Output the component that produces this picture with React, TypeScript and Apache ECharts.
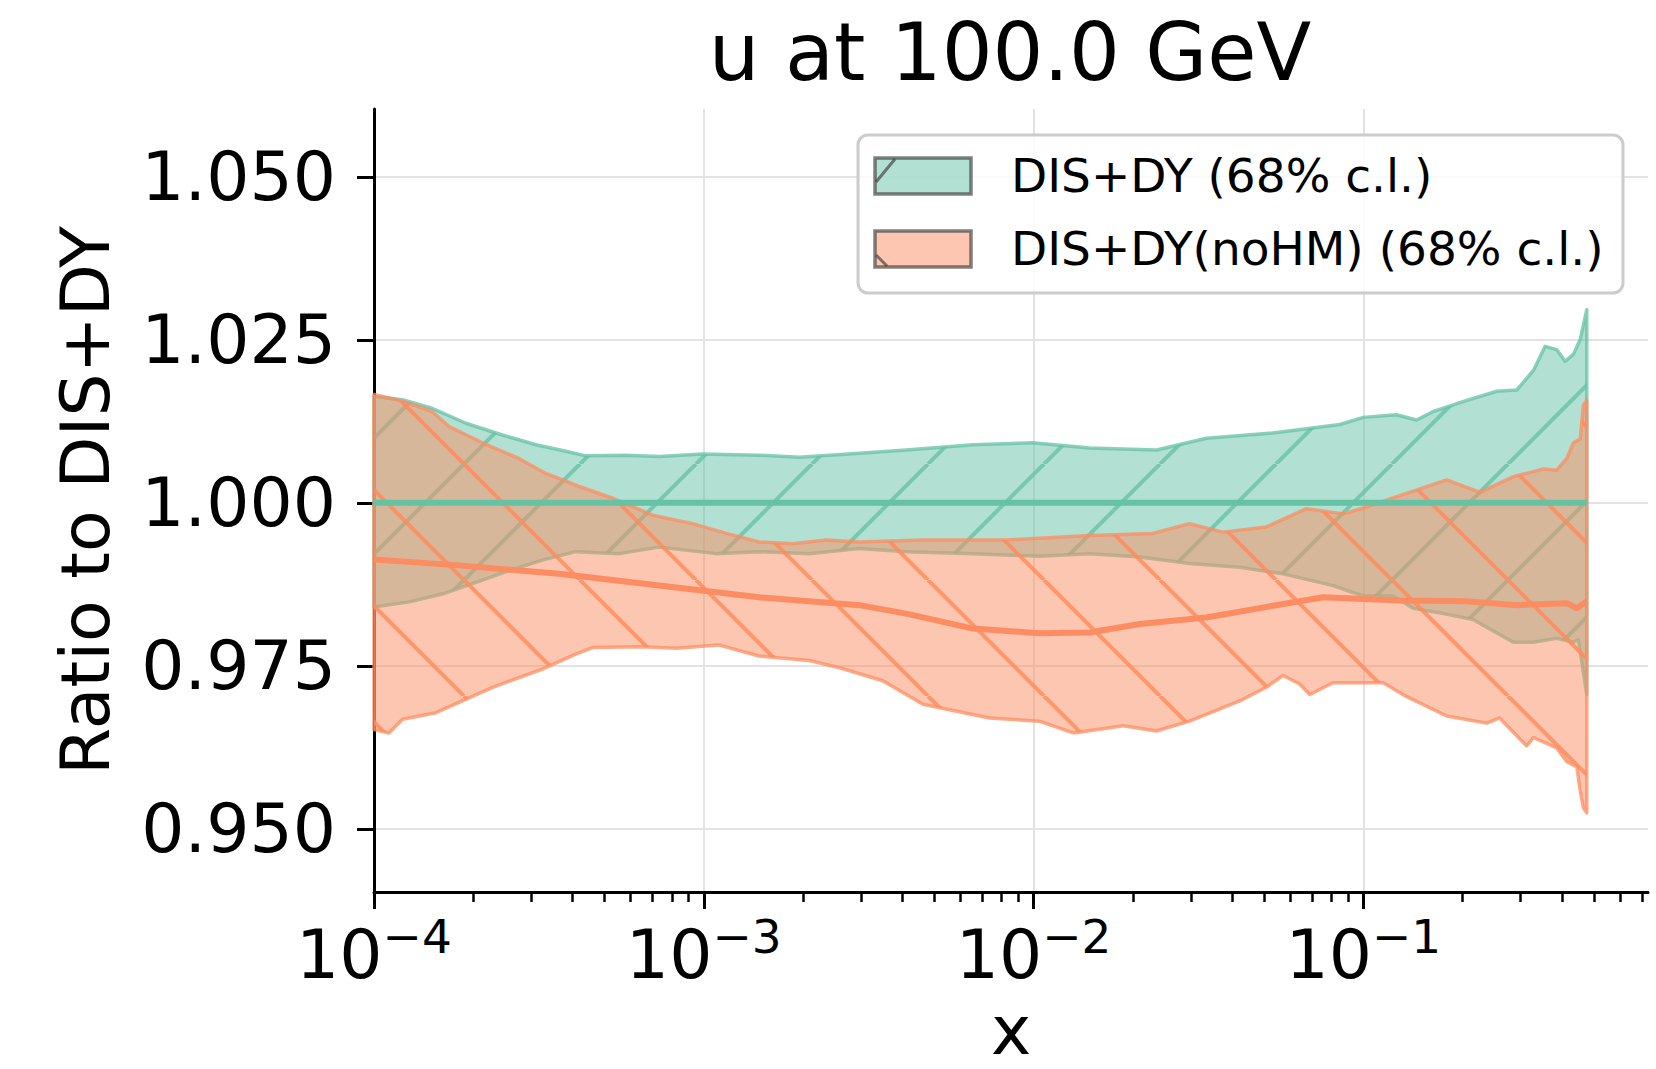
import React, { useEffect, useRef } from "react";
import * as echarts from "echarts";

const TITLE = "u at 100.0 GeV";
const X_NAME = "x";
const Y_NAME = "Ratio to DIS+DY";
const LEGEND_LABELS = ["DIS+DY (68% c.l.)", "DIS+DY(noHM) (68% c.l.)"];

const X_MIN = 1e-4;
const X_MAX = 0.73;
const Y_MIN = 0.9403;
const Y_MAX = 1.0604;
const Y_TICKS = [0.95, 0.975, 1.0, 1.025, 1.05];
const X_MAJOR_TICKS = [1e-4, 1e-3, 1e-2, 1e-1];

// DIS+DY band (68% c.l.), ratio to DIS+DY central
const GREEN_UPPER: number[][] = [
  [1.0e-4, 1.0163], [1.22e-4, 1.0158], [1.5e-4, 1.0145], [1.9e-4, 1.0122], [2.45e-4, 1.0104],
  [3.1e-4, 1.0089], [3.82e-4, 1.0079], [4.39e-4, 1.0072], [5.81e-4, 1.0073], [7.33e-4, 1.0071],
  [9.91e-4, 1.0075], [1.47e-3, 1.0073], [1.95e-3, 1.007], [2.96e-3, 1.0076], [4.11e-3, 1.0081],
  [6.55e-3, 1.0089], [9.95e-3, 1.0092], [1.48e-2, 1.0084], [2.36e-2, 1.0081], [3.34e-2, 1.0099],
  [5.32e-2, 1.0107], [8.49e-2, 1.012], [0.1, 1.0131], [0.126, 1.0135], [0.145, 1.0127],
  [0.163, 1.014], [0.206, 1.0157], [0.254, 1.0171], [0.292, 1.0173], [0.328, 1.0203],
  [0.356, 1.024], [0.386, 1.0235], [0.409, 1.0217], [0.434, 1.0228], [0.455, 1.0251], [0.476, 1.0296],
];
const GREEN_LOWER: number[][] = [
  [1.0e-4, 0.984], [1.28e-4, 0.9848], [1.61e-4, 0.986], [2.04e-4, 0.9878], [2.57e-4, 0.9896],
  [3.24e-4, 0.9912], [4.09e-4, 0.9925], [5.54e-4, 0.9922], [7.33e-4, 0.9932], [1.09e-3, 0.9922],
  [1.47e-3, 0.9925], [2.09e-3, 0.9922], [2.96e-3, 0.993], [4.11e-3, 0.9925], [6.55e-3, 0.9922],
  [1.04e-2, 0.9918], [1.48e-2, 0.9922], [2.1e-2, 0.9917], [2.97e-2, 0.9907], [4.22e-2, 0.9901],
  [5.71e-2, 0.9891], [8.09e-2, 0.9873], [0.1, 0.9857], [0.123, 0.9857], [0.142, 0.9838],
  [0.175, 0.983], [0.215, 0.9821], [0.285, 0.9786], [0.328, 0.9786], [0.386, 0.9792],
  [0.434, 0.9786], [0.449, 0.979], [0.476, 0.9706],
];
const GREEN_CENTRAL: number[][] = [[1.0e-4, 1.0], [0.476, 1.0]];

// DIS+DY(noHM) band (68% c.l.)
const ORANGE_UPPER: number[][] = [
  [1.0e-4, 1.0166], [1.22e-4, 1.0156], [1.5e-4, 1.014], [1.69e-4, 1.0117], [2.13e-4, 1.0092],
  [2.75e-4, 1.0068], [3.32e-4, 1.0045], [4.19e-4, 1.0025], [5.29e-4, 1.0007], [7.0e-4, 0.9981],
  [9.25e-4, 0.9968], [1.17e-3, 0.9953], [1.47e-3, 0.994], [1.86e-3, 0.9937], [2.35e-3, 0.9943],
  [2.96e-3, 0.994], [4.62e-3, 0.9943], [8.26e-3, 0.9943], [1.48e-2, 0.995], [2.3e-2, 0.9953],
  [2.97e-2, 0.9968], [3.75e-2, 0.9955], [5.08e-2, 0.9963], [6.72e-2, 0.9991], [8.69e-2, 0.9983],
  [0.1, 0.9992], [0.129, 1.0011], [0.179, 1.0035], [0.226, 1.0016], [0.285, 1.004],
  [0.352, 1.0052], [0.386, 1.005], [0.414, 1.0068], [0.434, 1.0092], [0.455, 1.0098],
  [0.465, 1.015], [0.476, 1.0157],
];
const ORANGE_LOWER: number[][] = [
  [1.0e-4, 0.9652], [1.11e-4, 0.9647], [1.22e-4, 0.9668], [1.54e-4, 0.9678], [2.29e-4, 0.9717],
  [3.24e-4, 0.9745], [4.09e-4, 0.9768], [4.6e-4, 0.9778], [6.52e-4, 0.9779], [8.24e-4, 0.9777],
  [1.11e-3, 0.9782], [1.47e-3, 0.9765], [2.09e-3, 0.9758], [2.58e-3, 0.9747], [3.49e-3, 0.9727],
  [4.62e-3, 0.9691], [7.35e-3, 0.967], [1.04e-2, 0.9665], [1.32e-2, 0.9647], [1.87e-2, 0.9658],
  [2.36e-2, 0.965], [2.97e-2, 0.9665], [4.22e-2, 0.9696], [5.08e-2, 0.9717], [5.71e-2, 0.9735],
  [6.41e-2, 0.9722], [6.88e-2, 0.9706], [8.09e-2, 0.9724], [0.115, 0.9724], [0.135, 0.9703],
  [0.179, 0.9673], [0.237, 0.9662], [0.259, 0.967], [0.313, 0.9627], [0.328, 0.964],
  [0.386, 0.9624], [0.414, 0.9603], [0.444, 0.9595], [0.455, 0.9558], [0.465, 0.9532], [0.476, 0.9524],
];
const ORANGE_CENTRAL: number[][] = [
  [1.0e-4, 0.9913], [1.81e-4, 0.9904], [3.64e-4, 0.9891], [7.33e-4, 0.9873], [1.47e-3, 0.9855],
  [2.96e-3, 0.9843], [4.11e-3, 0.983], [6.55e-3, 0.9807], [1.04e-2, 0.98], [1.48e-2, 0.9801],
  [2.1e-2, 0.9814], [3.34e-2, 0.9824], [5.32e-2, 0.9842], [7.55e-2, 0.9855], [0.129, 0.985],
  [0.206, 0.9849], [0.292, 0.9843], [0.414, 0.9846], [0.444, 0.9838], [0.476, 0.9849],
];

const FONT = "DejaVu Sans";
const GREEN = "#66c2a5";
const ORANGE = "#fc8d62";
const GREEN_FILL = "rgba(102,194,165,0.5)";
const ORANGE_FILL = "rgba(252,141,98,0.5)";
const GREEN_EDGE = "rgba(102,194,165,0.75)";
const ORANGE_EDGE = "rgba(252,141,98,0.75)";
const LEGEND_EDGE = "rgba(60,60,60,0.65)";
const HATCH = 116;

function makeHatch(color: string, dir: number) {
  const c = document.createElement("canvas");
  c.width = HATCH;
  c.height = HATCH;
  const ctx = c.getContext("2d") as CanvasRenderingContext2D;
  ctx.strokeStyle = color;
  ctx.lineWidth = 4;
  for (let k = -1; k <= 1; k++) {
    ctx.beginPath();
    if (dir > 0) {
      ctx.moveTo(k * HATCH, HATCH);
      ctx.lineTo(k * HATCH + HATCH, 0);
    } else {
      ctx.moveTo(k * HATCH, 0);
      ctx.lineTo(k * HATCH + HATCH, HATCH);
    }
    ctx.stroke();
  }
  return c;
}

const lx = (p: number[]) => [Math.log10(p[0]), p[1]];

function bandRenderer(upper: number[][], lower: number[][], fill: string, edge: string, pattern: any) {
  return (_params: any, api: any) => {
    const pts: number[][] = [];
    upper.forEach((p) => pts.push(api.coord(lx(p))));
    for (let i = lower.length - 1; i >= 0; i--) pts.push(api.coord(lx(lower[i])));
    return {
      type: "group",
      children: [
        { type: "polygon", shape: { points: pts }, style: { fill, stroke: "none" } },
        { type: "polygon", shape: { points: pts }, style: { fill: pattern, stroke: "none" } },
        {
          type: "polygon",
          shape: { points: pts },
          style: { fill: "none", stroke: edge, lineWidth: 3.5, lineJoin: "round" },
        },
      ],
    };
  };
}

export default function App() {
  const ref = useRef<HTMLDivElement>(null);

  useEffect(() => {
    if (!ref.current) return;
    const chart = echarts.init(ref.current, undefined, { renderer: "svg" });

    const greenPattern = {
      image: makeHatch("rgba(102,194,165,0.8)", 1),
      repeat: "repeat",
      imageWidth: HATCH,
      imageHeight: HATCH,
      x: 14,
      y: 0,
    };
    const orangePattern = {
      image: makeHatch("rgba(252,141,98,0.85)", -1),
      repeat: "repeat",
      imageWidth: HATCH,
      imageHeight: HATCH,
      x: 39,
      y: 0,
    };

    const xMin = Math.log10(X_MIN);
    const xMax = Math.log10(X_MAX);
    const majors = X_MAJOR_TICKS.map((v) => Math.log10(v));
    const minors: number[] = [];
    majors.forEach((d) => {
      for (let k = 2; k <= 9; k++) {
        const v = d + Math.log10(k);
        if (v <= xMax) minors.push(v);
      }
    });

    const option: any = {
      animation: false,
      backgroundColor: "#ffffff",
      title: {
        text: TITLE,
        left: 1010,
        top: 12,
        textAlign: "center",
        padding: 0,
        textStyle: { fontSize: 80, fontWeight: "normal", fontFamily: FONT, color: "#000" },
      },
      grid: { left: 374, right: 8, top: 109, bottom: 177, containLabel: false, outerBoundsMode: "none" },
      xAxis: [
        {
          type: "value",
          min: xMin,
          max: xMax,
          position: "bottom",
          name: X_NAME,
          nameLocation: "middle",
          nameGap: 110,
          nameTextStyle: { fontSize: 68, lineHeight: 56, fontFamily: FONT, color: "#000" },
          axisLine: { show: true, onZero: false, lineStyle: { color: "#000", width: 3 } },
          axisTick: { show: true, customValues: majors, length: 17, lineStyle: { color: "#000", width: 3 } },
          axisLabel: {
            customValues: majors,
            margin: 21,
            formatter: (v: number) => `{b|10}{s|\u2212${Math.round(-v)}}`,
            rich: {
              b: { fontSize: 68, lineHeight: 83, fontFamily: FONT, color: "#000" },
              s: { fontSize: 47, lineHeight: 47, verticalAlign: "top", fontFamily: FONT, color: "#000" },
            },
          },
          splitLine: { show: true, lineStyle: { color: "#e3e3e3", width: 2 } },
        },
        {
          type: "value",
          min: xMin,
          max: xMax,
          position: "bottom",
          axisLine: { show: false },
          axisTick: { show: true, customValues: minors, length: 10, lineStyle: { color: "#000", width: 2.5 } },
          axisLabel: { show: false },
          splitLine: { show: false },
        },
      ],
      yAxis: {
        type: "value",
        min: Y_MIN,
        max: Y_MAX,
        name: Y_NAME,
        nameLocation: "middle",
        nameRotate: 90,
        nameGap: 255,
        nameTextStyle: { fontSize: 68, fontFamily: FONT, color: "#000" },
        axisLine: { show: true, onZero: false, lineStyle: { color: "#000", width: 3 } },
        axisTick: { show: true, customValues: Y_TICKS, length: 17, lineStyle: { color: "#000", width: 3 } },
        axisLabel: {
          customValues: Y_TICKS,
          margin: 38,
          fontSize: 68,
          fontFamily: FONT,
          color: "#000",
          formatter: (v: number) => v.toFixed(3),
        },
        splitLine: { show: true, lineStyle: { color: "#e3e3e3", width: 2 } },
      },
      series: [
        {
          type: "custom",
          name: LEGEND_LABELS[0],
          silent: true,
          z: 2,
          data: [[xMin, 1]],
          renderItem: bandRenderer(GREEN_UPPER, GREEN_LOWER, GREEN_FILL, GREEN_EDGE, greenPattern),
        },
        {
          type: "custom",
          name: LEGEND_LABELS[1],
          silent: true,
          z: 3,
          data: [[xMin, 1]],
          renderItem: bandRenderer(ORANGE_UPPER, ORANGE_LOWER, ORANGE_FILL, ORANGE_EDGE, orangePattern),
        },
        {
          type: "line",
          silent: true,
          z: 4,
          symbol: "none",
          data: GREEN_CENTRAL.map(lx),
          lineStyle: { color: GREEN, width: 6 },
        },
        {
          type: "line",
          silent: true,
          z: 5,
          symbol: "none",
          data: ORANGE_CENTRAL.map(lx),
          lineStyle: { color: ORANGE, width: 6 },
        },
      ],
      graphic: [
        {
          type: "rect",
          z: 100,
          shape: { x: 858, y: 135, width: 765, height: 158, r: 10 },
          style: { fill: "rgba(255,255,255,0.8)", stroke: "#cccccc", lineWidth: 3 },
        },
        {
          type: "rect",
          z: 101,
          shape: { x: 875, y: 158, width: 96, height: 36 },
          style: { fill: GREEN_FILL, stroke: LEGEND_EDGE, lineWidth: 3.5 },
        },
        {
          type: "line",
          z: 102,
          shape: { x1: 876, y1: 182, x2: 895, y2: 159 },
          style: { stroke: LEGEND_EDGE, lineWidth: 3 },
        },
        {
          type: "rect",
          z: 101,
          shape: { x: 875, y: 231, width: 96, height: 36 },
          style: { fill: ORANGE_FILL, stroke: LEGEND_EDGE, lineWidth: 3.5 },
        },
        {
          type: "line",
          z: 102,
          shape: { x1: 876, y1: 255, x2: 887, y2: 266 },
          style: { stroke: LEGEND_EDGE, lineWidth: 3 },
        },
        {
          type: "text",
          z: 101,
          x: 1011,
          y: 175,
          style: {
            text: LEGEND_LABELS[0],
            fontSize: 47,
            fontFamily: FONT,
            fill: "#000",
            verticalAlign: "middle",
            align: "left",
          },
        },
        {
          type: "text",
          z: 101,
          x: 1011,
          y: 248,
          style: {
            text: LEGEND_LABELS[1],
            fontSize: 47,
            fontFamily: FONT,
            fill: "#000",
            verticalAlign: "middle",
            align: "left",
          },
        },
      ],
    };

    chart.setOption(option);
    return () => chart.dispose();
  }, []);

  return (
    <div
      ref={ref}
      style={{ position: "fixed", left: 0, top: 0, width: 1656, height: 1069, background: "#fff" }}
    />
  );
}
